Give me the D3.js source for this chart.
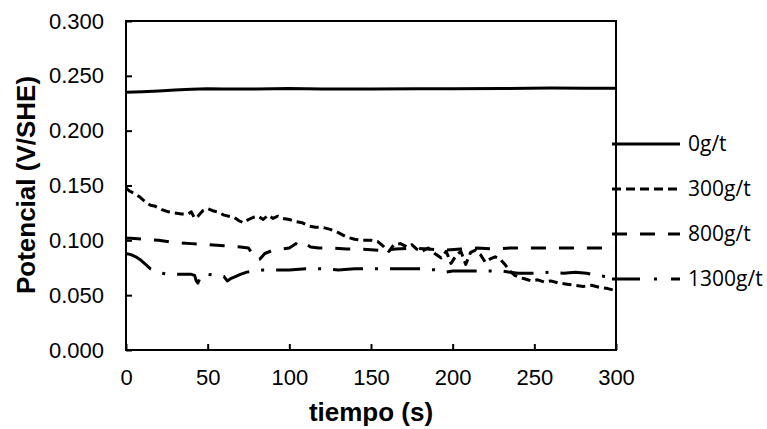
<!DOCTYPE html>
<html>
<head>
<meta charset="utf-8">
<script src="https://cdn.jsdelivr.net/npm/d3@7"></script>
<style>
  body { margin: 0; background: #fff; }
  svg { display: block; }
  .axis path, .axis line { stroke: #000; stroke-width: 2px; }
  .axis text { font-family: "Liberation Sans", Arial, sans-serif; font-size: 22px; fill: #000; }
  .title { font-family: "Liberation Sans", Arial, sans-serif; font-weight: bold; font-size: 26px; }
  .legend text { font-family: "Open Sans", sans-serif; font-size: 21px; }
</style>
</head>
<body>
<svg id="chart" width="767" height="429"></svg>
<script>
// series names and ticks
var seriesNames = ["0g/t", "300g/t", "800g/t", "1300g/t"];
var yTicks = [0, 0.05, 0.10, 0.15, 0.20, 0.25, 0.30];
var xTicks = [0, 50, 100, 150, 200, 250, 300];

// 0 g/t
var t0 = [0, 10, 20, 30, 40, 50, 60, 80, 100, 120, 150, 180, 200, 230, 260, 280, 300];
var v0 = [0.2350, 0.2355, 0.2362, 0.2370, 0.2378, 0.2382, 0.2380, 0.2381, 0.2385, 0.2380, 0.2381, 0.2382, 0.2383, 0.2385, 0.2388, 0.2386, 0.2387];

// 300 g/t
var t300 = [0, 2, 5, 8, 12, 15, 18, 22, 26, 30, 34, 38, 40, 42, 44, 47, 50, 53, 56, 60, 63, 66, 69, 72, 75, 78, 81, 84, 87, 90, 93, 96, 100, 104, 108, 112, 116, 120, 125, 130, 135, 140, 145, 150, 154, 158, 161, 164, 168, 172, 175, 178, 181, 185, 189, 193, 196, 199, 202, 205, 208, 211, 214, 217, 220, 223, 226, 229, 232, 235, 238, 241, 244, 248, 252, 256, 260, 265, 270, 275, 280, 285, 290, 295, 300];
var v300 = [0.148, 0.145, 0.143, 0.140, 0.135, 0.132, 0.131, 0.128, 0.126, 0.125, 0.124, 0.124, 0.126, 0.120, 0.122, 0.127, 0.129, 0.127, 0.126, 0.123, 0.122, 0.121, 0.118, 0.116, 0.119, 0.121, 0.122, 0.119, 0.123, 0.120, 0.122, 0.120, 0.119, 0.117, 0.116, 0.113, 0.112, 0.112, 0.110, 0.107, 0.103, 0.101, 0.100, 0.100, 0.099, 0.094, 0.090, 0.096, 0.097, 0.094, 0.096, 0.092, 0.090, 0.093, 0.088, 0.084, 0.090, 0.079, 0.086, 0.090, 0.078, 0.089, 0.091, 0.087, 0.080, 0.083, 0.085, 0.083, 0.078, 0.072, 0.068, 0.066, 0.065, 0.063, 0.064, 0.062, 0.063, 0.061, 0.060, 0.059, 0.058, 0.059, 0.057, 0.056, 0.054];

// 800 g/t
var t800 = [0, 3, 10, 20, 30, 40, 50, 60, 70, 75, 78, 80, 82, 85, 90, 95, 100, 104, 107, 110, 113, 118, 125, 135, 145, 155, 165, 175, 185, 195, 205, 215, 225, 235, 250, 265, 280, 300];
var v800 = [0.102, 0.102, 0.101, 0.100, 0.098, 0.097, 0.096, 0.095, 0.094, 0.093, 0.086, 0.082, 0.083, 0.088, 0.091, 0.092, 0.093, 0.097, 0.094, 0.097, 0.094, 0.093, 0.093, 0.092, 0.092, 0.091, 0.092, 0.093, 0.092, 0.091, 0.092, 0.093, 0.092, 0.093, 0.093, 0.093, 0.093, 0.093];

// 1300 g/t
var t1300 = [0, 3, 6, 9, 12, 15, 18, 22, 26, 30, 35, 40, 42, 43, 44, 46, 50, 55, 60, 62, 64, 67, 70, 74, 78, 84, 90, 100, 110, 120, 130, 140, 150, 160, 170, 180, 190, 196, 200, 210, 220, 230, 240, 250, 260, 268, 275, 282, 288, 294, 300];
var v1300 = [0.088, 0.087, 0.085, 0.082, 0.078, 0.074, 0.072, 0.070, 0.069, 0.069, 0.069, 0.069, 0.068, 0.063, 0.061, 0.068, 0.069, 0.068, 0.067, 0.063, 0.065, 0.067, 0.069, 0.071, 0.072, 0.073, 0.073, 0.073, 0.074, 0.074, 0.073, 0.074, 0.074, 0.074, 0.074, 0.074, 0.073, 0.071, 0.072, 0.072, 0.072, 0.072, 0.070, 0.070, 0.071, 0.070, 0.071, 0.070, 0.068, 0.067, 0.065];

var dashes = [null, "9,5", "15,13", "30,12,3,12"];

(function () {
  var svg = d3.select("#chart");
  var mLeft = 126, mRight = 616, mTop = 21, mBottom = 350;

  var x = d3.scaleLinear().domain([0, 300]).range([mLeft, mRight]);
  var y = d3.scaleLinear().domain([0, 0.3]).range([mBottom, mTop]);

  // frame
  svg.append("rect")
    .attr("x", mLeft).attr("y", mTop)
    .attr("width", mRight - mLeft).attr("height", mBottom - mTop)
    .attr("fill", "none").attr("stroke", "#000").attr("stroke-width", 2);

  svg.append("g").attr("class", "axis")
    .attr("transform", "translate(" + mLeft + ",0)")
    .call(d3.axisLeft(y).tickValues(yTicks).tickFormat(d3.format(".3f"))
      .tickSizeInner(-6).tickSizeOuter(0).tickPadding(22));

  svg.append("g").attr("class", "axis")
    .attr("transform", "translate(0," + mBottom + ")")
    .call(d3.axisBottom(x).tickValues(xTicks).tickFormat(d3.format("d"))
      .tickSizeInner(-6).tickSizeOuter(0).tickPadding(19));

  svg.selectAll(".axis .domain").remove();

  var series = [
    { t: t0, v: v0 },
    { t: t300, v: v300 },
    { t: t800, v: v800 },
    { t: t1300, v: v1300 }
  ];

  var line = d3.line()
    .x(function(d) { return x(d[0]); })
    .y(function(d) { return y(d[1]); });

  series.forEach(function(s, i) {
    svg.append("path")
      .datum(d3.zip(s.t, s.v))
      .attr("d", line)
      .attr("fill", "none")
      .attr("stroke", "#000")
      .attr("stroke-width", 3)
      .attr("stroke-linejoin", "round")
      .attr("stroke-dasharray", dashes[i]);
  });

  // legend
  var lg = svg.append("g").attr("class", "legend");
  seriesNames.forEach(function(name, i) {
    var ly = 144 + i * 45;
    lg.append("line")
      .attr("x1", 612).attr("x2", 680)
      .attr("y1", ly).attr("y2", ly)
      .attr("stroke", "#000").attr("stroke-width", 3)
      .attr("stroke-dasharray", i == 3 ? "28,14,3,14" : dashes[i]);
    lg.append("text")
      .attr("x", 688).attr("y", ly + 7)
      .text(name);
  });

  svg.append("text").attr("class", "title")
    .attr("text-anchor", "middle")
    .attr("transform", "translate(35,185) rotate(-90)")
    .text("Potencial (V/SHE)");

  svg.append("text").attr("class", "title")
    .attr("text-anchor", "middle")
    .attr("x", 371).attr("y", 421)
    .text("tiempo (s)");
})();
</script>
</body>
</html>
